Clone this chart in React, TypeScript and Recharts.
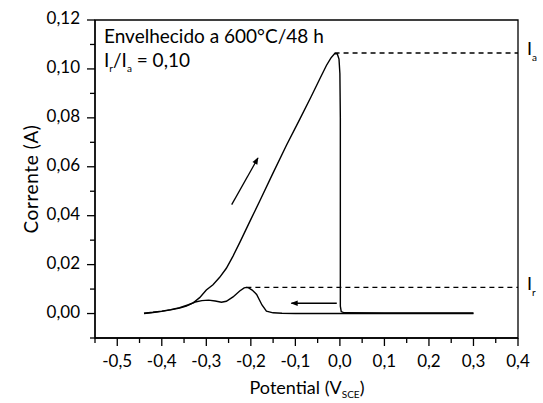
import React from "react";
import { LineChart, Line, XAxis, YAxis, ReferenceLine, ReferenceArea } from "recharts";

// forward scan (anodic), -0.44 V up to 0.3 V
const fwdX = [-0.44, -0.42, -0.40, -0.38, -0.36, -0.345, -0.33, -0.315, -0.30, -0.285, -0.27, -0.255, -0.24, -0.225, -0.20, -0.18, -0.15, -0.12, -0.09, -0.065, -0.045, -0.03, -0.02, -0.012, -0.006, -0.002, 0.0, 0.001, 0.001, 0.003, 0.01, 0.1, 0.2, 0.3];
const fwdY = [0, 0.0004, 0.0009, 0.0015, 0.0022, 0.003, 0.0043, 0.0065, 0.0096, 0.0118, 0.0148, 0.0185, 0.0235, 0.029, 0.0385, 0.046, 0.0575, 0.0688, 0.0795, 0.0885, 0.096, 0.1015, 0.1045, 0.1062, 0.1062, 0.104, 0.098, 0.08, 0.003, 0.0008, 0.0003, 0.0002, 0.0002, 0.0002];

// reverse scan, 0.3 V back to -0.44 V
const revX = [0.3, 0.2, 0.1, 0.0, -0.05, -0.1, -0.13, -0.15, -0.165, -0.175, -0.187, -0.197, -0.205, -0.21, -0.215, -0.225, -0.24, -0.255, -0.266, -0.28, -0.295, -0.31, -0.325, -0.34, -0.36, -0.38, -0.40, -0.42, -0.44];
const revY = [0, 0, 0, 0, 0, 0, 0.0001, 0.0003, 0.001, 0.0035, 0.0078, 0.0096, 0.0105, 0.0107, 0.0105, 0.0092, 0.0068, 0.005, 0.0046, 0.0051, 0.0055, 0.0053, 0.0047, 0.0036, 0.0024, 0.0016, 0.001, 0.0005, 0.0001];

// direction arrows
const arrowUpX = [-0.243, -0.184];
const arrowUpY = [0.0445, 0.0636];
const arrowLeftX = [-0.007, -0.109];
const arrowLeftY = [0.0042, 0.0042];

const Ia = 0.1065;
const IaStart = -0.012;
const Ir = 0.0107;
const IrStart = -0.21;

const xTicks = [-0.55, -0.5, -0.45, -0.4, -0.35, -0.3, -0.25, -0.2, -0.15, -0.1, -0.05, 0, 0.05, 0.1, 0.15, 0.2, 0.25, 0.3, 0.35, 0.4];
const xMajor = [-0.5, -0.4, -0.3, -0.2, -0.1, 0, 0.1, 0.2, 0.3, 0.4];
const xLabels = ["-0,5", "-0,4", "-0,3", "-0,2", "-0,1", "0,0", "0,1", "0,2", "0,3", "0,4"];
const yTicks = [-0.01, 0, 0.01, 0.02, 0.03, 0.04, 0.05, 0.06, 0.07, 0.08, 0.09, 0.1, 0.11, 0.12];
const yMajor = [0, 0.02, 0.04, 0.06, 0.08, 0.1, 0.12];
const yLabels = ["0,00", "0,02", "0,04", "0,06", "0,08", "0,10", "0,12"];

const toPts = (xs: number[], ys: number[]) => xs.map((x, i) => ({ x, y: ys[i] }));
const fwd = toPts(fwdX, fwdY);
const rev = toPts(revX, revY);
const arrowUp = toPts(arrowUpX, arrowUpY);
const arrowLeft = toPts(arrowLeftX, arrowLeftY);

const FONT = "Lato, 'Open Sans', sans-serif";
const near = (a: number, b: number) => Math.abs(a - b) < 1e-6;

const XTick = (props: any) => {
  const { x, y, payload } = props;
  const i = xMajor.findIndex((m) => near(m, payload.value));
  const major = i >= 0;
  return (
    <g>
      <line x1={x} y1={y} x2={x} y2={y + (major ? 8 : 5)} stroke="#000" strokeWidth={1.3} />
      {major && (
        <text x={x} y={y + 25} textAnchor="middle" dominantBaseline="middle" fontSize={17} fontFamily={FONT} fill="#000">
          {xLabels[i]}
        </text>
      )}
    </g>
  );
};

const YTick = (props: any) => {
  const { x, y, payload } = props;
  const i = yMajor.findIndex((m) => near(m, payload.value));
  const major = i >= 0;
  return (
    <g>
      <line x1={x} y1={y} x2={x - (major ? 8 : 5)} y2={y} stroke="#000" strokeWidth={1.3} />
      {major && (
        <text x={x - 15} y={y} textAnchor="end" dominantBaseline="middle" fontSize={17} fontFamily={FONT} fill="#000">
          {yLabels[i]}
        </text>
      )}
    </g>
  );
};

const subLabel = (sub: string, dy: number) => (props: any) => {
  const vb = props.viewBox;
  const x = vb.x + vb.width + 9;
  const y = vb.y + dy;
  return (
    <text x={x} y={y} fontSize={18} fontFamily={FONT} fill="#000">
      I
      <tspan fontSize={10} dy={6}>{sub}</tspan>
    </text>
  );
};

export default function App() {
  return (
    <div style={{ position: "absolute", left: 0, top: 0, width: 543, height: 403, background: "#fff", overflow: "hidden" }}>
      <svg width={0} height={0} style={{ position: "absolute" }}>
        <defs>
          <marker id="arrowHead" viewBox="0 0 10 10" refX="9" refY="5" markerWidth="9" markerHeight="7" orient="auto" markerUnits="userSpaceOnUse">
            <path d="M0,1 L10,5 L0,9 z" fill="#000" />
          </marker>
        </defs>
      </svg>
      <LineChart width={543} height={403} margin={{ top: 20, right: 25, left: 15, bottom: 5 }}>
        <XAxis
          type="number"
          dataKey="x"
          domain={[-0.55, 0.4]}
          ticks={xTicks}
          tick={<XTick />}
          tickLine={false}
          tickSize={0}
          tickMargin={0}
          height={60}
          interval={0}
          allowDataOverflow
          axisLine={{ stroke: "#000", strokeWidth: 1.3 }}
        />
        <YAxis
          type="number"
          dataKey="y"
          domain={[-0.01, 0.12]}
          ticks={yTicks}
          tick={<YTick />}
          tickLine={false}
          tickSize={0}
          tickMargin={0}
          width={80}
          interval={0}
          allowDataOverflow
          axisLine={{ stroke: "#000", strokeWidth: 1.3 }}
        />
        <ReferenceArea x1={-0.55} x2={0.4} y1={-0.01} y2={0.12} fill="none" stroke="#000" strokeWidth={1.3} />
        <ReferenceLine
          segment={[{ x: IaStart, y: Ia }, { x: 0.4, y: Ia }]}
          stroke="#000"
          strokeDasharray="5 4"
          strokeWidth={1.3}
          label={subLabel("a", 2)}
        />
        <ReferenceLine
          segment={[{ x: IrStart, y: Ir }, { x: 0.4, y: Ir }]}
          stroke="#000"
          strokeDasharray="5 4"
          strokeWidth={1.3}
          label={subLabel("r", 3)}
        />
        <Line data={rev} dataKey="y" type="linear" stroke="#000" strokeWidth={1.4} dot={false} isAnimationActive={false} />
        <Line data={fwd} dataKey="y" type="linear" stroke="#000" strokeWidth={1.4} dot={false} isAnimationActive={false} />
        <Line data={arrowUp} dataKey="y" type="linear" stroke="#000" strokeWidth={1.3} dot={false} markerEnd="url(#arrowHead)" isAnimationActive={false} />
        <Line data={arrowLeft} dataKey="y" type="linear" stroke="#000" strokeWidth={1.3} dot={false} markerEnd="url(#arrowHead)" isAnimationActive={false} />
      </LineChart>
      <div style={{ position: "absolute", left: 104, top: 24, fontFamily: FONT, fontSize: 19, lineHeight: "24px", color: "#000", whiteSpace: "nowrap" }}>
        <div>Envelhecido a 600°C/48 h</div>
        <div>
          I<sub style={{ fontSize: 10 }}>r</sub>/I<sub style={{ fontSize: 10 }}>a</sub> = 0,10
        </div>
      </div>
      <div style={{ position: "absolute", left: 30, top: 179, transform: "translate(-50%, -50%) rotate(-90deg)", fontFamily: FONT, fontSize: 19, letterSpacing: 0.6, color: "#000", whiteSpace: "nowrap" }}>
        Corrente (A)
      </div>
      <div style={{ position: "absolute", left: 307, top: 388, transform: "translate(-50%, -50%)", fontFamily: FONT, fontSize: 18, color: "#000", whiteSpace: "nowrap" }}>
        Potential (V<sub style={{ fontSize: 10 }}>SCE</sub>)
      </div>
    </div>
  );
}
